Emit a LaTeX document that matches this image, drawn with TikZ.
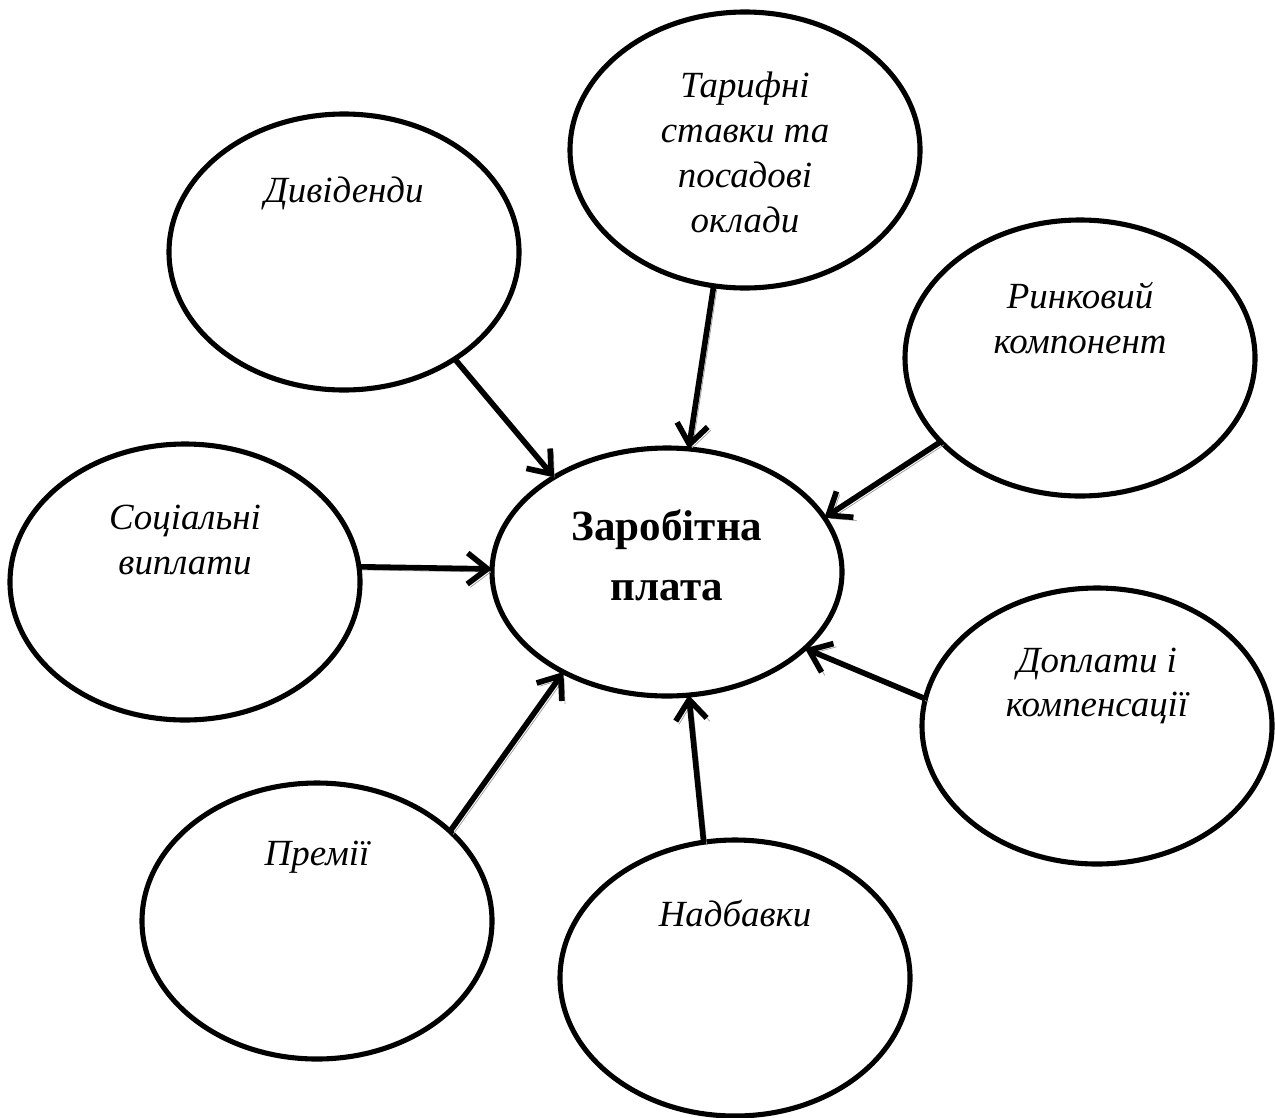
\documentclass[tikz,border=0pt]{standalone}
\usepackage{fontspec}
\setmainfont{Liberation Serif}
\usepackage{tikz}
\usetikzlibrary{arrows.meta,shapes.geometric}

\begin{document}
\begin{tikzpicture}[font=\fontsize{21}{25.5}\selectfont\itshape,
        part/.style={ellipse,draw,line width=2.9pt,minimum width=7cm,minimum height=5.52cm,inner sep=0pt,outer sep=0pt},
        lbl/.style={align=center,inner sep=0pt},
        arr/.style={-{Straight Barb[length=4mm,width=6.2mm]},line width=3.2pt,
          preaction={draw=black!40,transform canvas={xshift=1.8pt,yshift=-1.8pt}}}]
      \useasboundingbox (0,0) rectangle (25.5,-22.34);
      \node[part,minimum height=4.96cm] (zp) at (13.34,-11.44) {};
      \node[part] (div) at (6.88,-5.04) {};
      \node[part] (tar) at (14.90,-3.00) {};
      \node[part] (rin) at (21.60,-7.16) {};
      \node[part] (soc) at (3.70,-11.64) {};
      \node[part] (dop) at (21.94,-14.52) {};
      \node[part] (prem) at (6.34,-18.42) {};
      \node[part] (nadb) at (14.70,-19.56) {};
      \node[lbl,font=\fontsize{24.5}{34}\selectfont\bfseries] (zptxt) at ([yshift=0.34cm]zp.center) {Заробітна\\плата};
      \node[lbl] (divtxt) at ([yshift=1.18cm]div.center) {Дивіденди};
      \node[lbl,text depth=0pt] (tartxt) at ([yshift=-0.04cm]tar.center) {Тарифні\\ставки та\\посадові\\оклади};
      \node[lbl] (rintxt) at ([yshift=0.8cm]rin.center) {Ринковий\\компонент};
      \node[lbl] (soctxt) at ([yshift=0.84cm]soc.center) {Соціальні\\виплати};
      \node[lbl] (doptxt) at ([yshift=0.8cm]dop.center) {Доплати і\\компенсації};
      \node[lbl] (premtxt) at ([yshift=1.28cm]prem.center) {Премії};
      \node[lbl] (nadbtxt) at ([yshift=1.3cm]nadb.center) {Надбавки};
      \foreach \n/\a/\b in {div/-44/140,tar/-103/80,rin/-149/19,soc/5/179,dop/171/-29,prem/34/-136,nadb/103/-80}
        \draw[arr] (\n.\a) -- (zp.\b);
    \end{tikzpicture}
\end{document}
